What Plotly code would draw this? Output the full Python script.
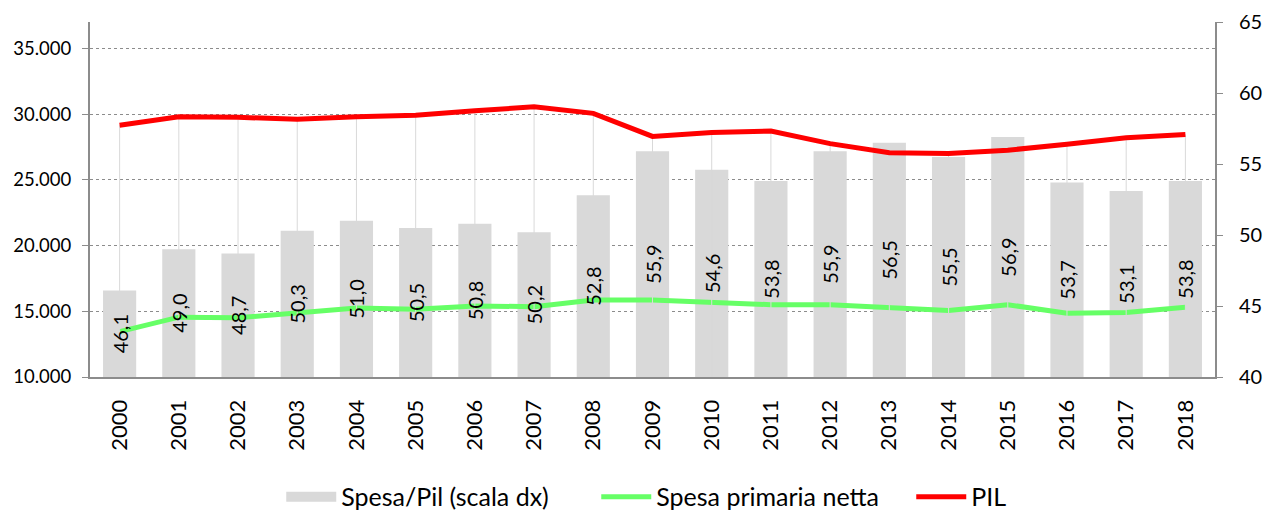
import plotly.graph_objects as go

years = ["2000", "2001", "2002", "2003", "2004", "2005", "2006", "2007", "2008", "2009",
         "2010", "2011", "2012", "2013", "2014", "2015", "2016", "2017", "2018"]
spesa_pil = [46.1, 49.0, 48.7, 50.3, 51.0, 50.5, 50.8, 50.2, 52.8, 55.9,
             54.6, 53.8, 55.9, 56.5, 55.5, 56.9, 53.7, 53.1, 53.8]
spesa_primaria = [13450, 14550, 14500, 14850, 15250, 15150, 15400, 15350, 15850, 15850,
                  15700, 15500, 15500, 15250, 15050, 15500, 14850, 14900, 15300]
pil = [29150, 29800, 29750, 29600, 29800, 29900, 30250, 30550, 30050, 28300,
       28600, 28700, 27750, 27050, 27000, 27250, 27700, 28200, 28450]

left_min, left_max = 10000, 37000
right_min, right_max = 40, 65

FONT = "Lato"
axis_col = "#8c8c8c"
bar_col = "#d9d9d9"
labels = [f"{v:.1f}".replace(".", ",") for v in spesa_pil]

fig = go.Figure()

# bars (right scale), drawn from the bottom of the right axis
fig.add_trace(go.Bar(
    x=years, y=[v - right_min for v in spesa_pil], base=right_min,
    name="Spesa/Pil (scala dx)", yaxis="y", showlegend=False,
    marker=dict(color=bar_col, line=dict(width=0)),
    width=0.56, hoverinfo="skip",
))

# legend stand-in for the bars (wide grey box)
fig.add_trace(go.Scatter(
    x=[None], y=[None], yaxis="y", name="Spesa/Pil (scala dx)",
    mode="lines", line=dict(color=bar_col, width=13), legendrank=1,
))

fig.add_trace(go.Scatter(
    x=years, y=spesa_primaria, name="Spesa primaria netta", yaxis="y2",
    mode="lines", line=dict(color="#66ff66", width=5), legendrank=2,
))

# drop lines from PIL down to the axis
fig.add_trace(go.Scatter(
    x=years, y=pil, yaxis="y2", showlegend=False, hoverinfo="skip",
    mode="markers", marker=dict(size=1, color="rgba(0,0,0,0)"),
    error_y=dict(type="data", symmetric=False,
                 array=[0] * len(pil),
                 arrayminus=[p - left_min for p in pil],
                 width=0, thickness=1, color=bar_col),
))

fig.add_trace(go.Scatter(
    x=years, y=pil, name="PIL", yaxis="y2",
    mode="lines", line=dict(color="#ff0000", width=5), legendrank=3,
))

# bar value labels, on a top layer (same scale as the bars)
fig.add_trace(go.Bar(
    x=years, y=[v - right_min for v in spesa_pil], base=right_min,
    yaxis="y3", showlegend=False, hoverinfo="skip",
    marker=dict(color="rgba(0,0,0,0)", line=dict(width=0)),
    width=0.56,
    text=labels, textposition="inside", insidetextanchor="middle",
    textangle=-90, constraintext="none",
    insidetextfont=dict(family=FONT, size=20, color="black"),
))

fig.update_layout(
    width=1264, height=511,
    margin=dict(l=90, r=49, t=22, b=134, autoexpand=False),
    paper_bgcolor="white", plot_bgcolor="white",
    separators=",.",
    font=dict(family=FONT, size=18, color="black"),
    showlegend=True,
    legend=dict(orientation="h", x=0.17, xanchor="left", y=-0.338, yanchor="middle",
                font=dict(family=FONT, size=25, color="black"),
                traceorder="normal", itemwidth=50,
                entrywidth=250, entrywidthmode="pixels"),
    xaxis=dict(
        type="category", range=[-0.5, len(years) - 0.5], autorange=False,
        tickangle=-90, showline=True, linecolor=axis_col, linewidth=2,
        ticks="", showgrid=False, automargin=False, ticklabelstandoff=12,
        tickfont=dict(family=FONT, size=22, color="black"),
    ),
    yaxis=dict(
        side="right", range=[right_min, right_max], tickmode="linear", tick0=40, dtick=5,
        showline=True, linecolor=axis_col, linewidth=2, ticks="outside", ticklen=6,
        tickcolor=axis_col, showgrid=False, zeroline=False, automargin=False,
        ticklabelstandoff=12,
        tickfont=dict(family=FONT, size=20, color="black"),
    ),
    yaxis2=dict(
        side="left", overlaying="y", range=[left_min, left_max],
        tickmode="linear", tick0=10000, dtick=5000, tickformat=",.0f",
        showline=True, linecolor=axis_col, linewidth=2, ticks="outside", ticklen=6,
        tickcolor=axis_col, showgrid=True, gridcolor="#8c8c8c", gridwidth=1,
        griddash="dot", zeroline=False, automargin=False, ticklabelstandoff=7,
        tickfont=dict(family=FONT, size=18.5, color="black"),
    ),
    yaxis3=dict(
        overlaying="y", range=[right_min, right_max], visible=False,
        showgrid=False, zeroline=False, automargin=False,
    ),
)

fig.write_html(
    "out.html",
    config={"displayModeBar": False},
    post_script="document.body.style.margin='0';document.documentElement.style.overflow='hidden';",
)
